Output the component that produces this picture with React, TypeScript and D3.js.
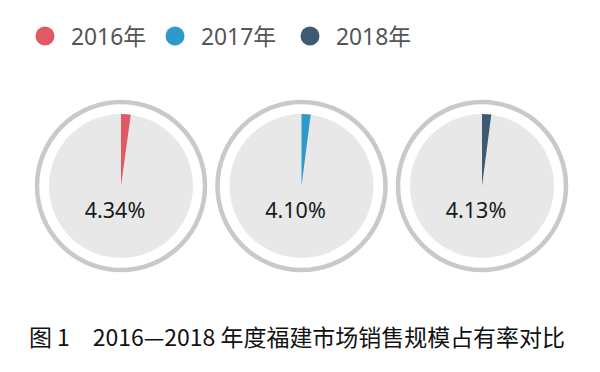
import { useEffect, useRef } from 'react';
import * as d3 from 'd3';

const years = ['2016年', '2017年', '2018年'];
const shares = [4.34, 4.1, 4.13];
const colors = ['#e05a63', '#2e9acb', '#3e5a72'];
const caption = '图 1　2016—2018 年度福建市场销售规模占有率对比';

const W = 600;
const H = 372;

const App = () => {
  const svgRef = useRef<SVGSVGElement>(null);

  useEffect(() => {
    if (!svgRef.current) return;
    const svg = d3.select(svgRef.current);
    svg.selectAll('*').remove();

    // legend
    const legend = svg.append('g');
    const legendX = d3.scaleOrdinal<string, number>().domain(years).range([45, 175, 310]);
    years.forEach((y, i) => {
      const g = legend.append('g').attr('transform', `translate(${legendX(y)},36)`);
      g.append('circle').attr('r', 9.5).attr('fill', colors[i]);
      g.append('text')
        .attr('x', 26)
        .attr('y', 9)
        .attr('textLength', 75)
        .attr('lengthAdjust', 'spacingAndGlyphs')
        .style('font-family', '"Noto Sans", "Noto Sans CJK SC", sans-serif')
        .style('font-size', '23px')
        .attr('fill', '#555')
        .text(y);
    });

    // pies
    const cx = d3.scalePoint<string>().domain(years).range([121, 482]);
    const cy = 186;
    const ringR = 84;
    const diskR = 72;
    // slice angle as drawn in the original
    const angle = d3.scaleLinear().domain([0, 200]).range([0, 2 * Math.PI]);
    const arc = d3.arc<any>().innerRadius(0).outerRadius(diskR);

    years.forEach((y, i) => {
      const g = svg.append('g').attr('transform', `translate(${cx(y)},${cy})`);
      g.append('circle').attr('r', ringR).attr('fill', 'none').attr('stroke', '#c9c9c9').attr('stroke-width', 4.5);
      g.append('circle').attr('r', diskR).attr('fill', '#e8e8e8');
      g.append('path')
        .attr('d', arc({ startAngle: 0, endAngle: angle(shares[i]) }))
        .attr('fill', colors[i]);
      g.append('text')
        .attr('x', -6)
        .attr('y', 32)
        .attr('text-anchor', 'middle')
        .style('font-family', '"Noto Sans", sans-serif')
        .style('font-size', '21.5px')
        .attr('fill', '#1a1a1a')
        .text(`${d3.format('.2f')(shares[i])}%`);
    });

    // caption
    svg.append('text')
      .attr('x', 29)
      .attr('y', 346)
      .attr('textLength', 536)
      .attr('lengthAdjust', 'spacingAndGlyphs')
      .style('font-family', '"Noto Sans CJK SC", sans-serif')
      .style('font-size', '23px')
      .attr('fill', '#111')
      .text(caption);
  }, []);

  return (
    <svg
      ref={svgRef}
      width={W}
      height={H}
      style={{ position: 'absolute', left: 0, top: 0, background: '#fff' }}
    />
  );
};

export default App;
